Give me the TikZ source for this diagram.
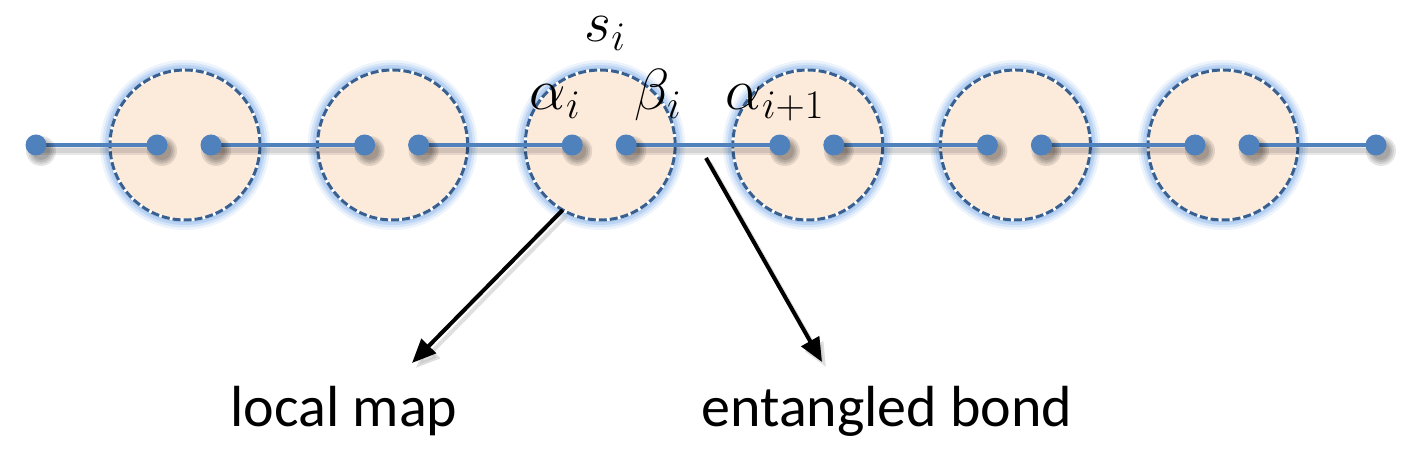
\RequirePackage{fix-cm}
\documentclass[tikz,border=0pt]{standalone}
\usepackage{fontspec}
\setmainfont{Carlito}
\usetikzlibrary{arrows.meta,calc}
\definecolor{bondblue}{HTML}{4F81BD}
\definecolor{rimblue}{HTML}{395F8E}
\definecolor{glowblue}{HTML}{8CB6EC}
\definecolor{peach}{HTML}{FCEADB}
\tikzset{
  site/.style={circle,fill=bondblue,inner sep=0pt,minimum size=21pt},
  siteshadow/.style={fill=black,opacity=.1},
  tensor/.style={circle,draw=white,line width=3pt,fill=peach,minimum size=150pt,
    inner sep=0pt,outer sep=0pt,postaction={draw=rimblue,dash pattern=on 8pt off 3pt}},
  bond/.style={bondblue,line width=4.5pt},
  bondshadow/.style={black,opacity=.09,line width=9pt},
  pointer/.style={line width=4pt,-{Triangle[length=24pt,width=20pt]}},
  lbl/.style={font=\fontsize{58}{70}\selectfont,anchor=base,inner sep=0pt},
}
\begin{document}
\begin{tikzpicture}[x=1pt,y=1pt]
\useasboundingbox (0,0) rectangle (1421,457);

% tensors with their glow
\foreach \k in {1,...,6} {
  \pgfmathsetmacro\cx{185+207.6*(\k-1)}
  \foreach \w/\o in {20/.15,15/.25,10/.35,5/.5}
    \draw[glowblue,line width=\w pt,opacity=\o] (\cx,312) circle (75);
  \node[tensor] (c\k) at (\cx,312) {};
  \coordinate (a\k) at ($(c\k)+(-28,0)$);
  \coordinate (b\k) at ($(c\k)+(26,0)$);
}
\coordinate (l) at (36,312);
\coordinate (r) at (1376,312);

% bonds
\foreach \p/\q in {l/a1,b1/a2,b2/a3,b3/a4,b4/a5,b5/a6,b6/r} {
  \draw[bondshadow,transform canvas={xshift=2pt,yshift=-6pt}] (\p) -- (\q);
  \draw[bondshadow,line width=5pt,transform canvas={xshift=2pt,yshift=-6pt}] (\p) -- (\q);
  \draw[bond] (\p) -- (\q);
}

% sites
\foreach \s in {l,a1,b1,a2,b2,a3,b3,a4,b4,a5,b5,a6,b6,r} {
  \foreach \rad in {15,13,11,9}
    \fill[siteshadow] ($(\s)+(5,-6)$) circle (\rad);
  \node[site] (dot-\s) at (\s) {};
}

% labels
\node[lbl] (s) at (605,415) {$s_i$};
\node[lbl] (al) at (555,347) {$\alpha_i$};
\node[lbl] (be) at (658,347) {$\beta_i$};
\node[lbl] (an) at (775,347) {$\alpha_{i+1}$};

\node[lbl] (lm) at (344,30) {local map};
\node[lbl] (eb) at (887,30) {entangled bond};

\coordinate (bondpt) at (706,299);
\coordinate (lmtip) at (412,94);
\coordinate (ebtip) at (822,95);
\draw[pointer,black!25,opacity=.5,transform canvas={xshift=4pt,yshift=-5pt}] (c3.240) -- (lmtip);
\draw[pointer,black!25,opacity=.5,transform canvas={xshift=4pt,yshift=-5pt}] (bondpt) -- (ebtip);
\draw[pointer] (c3.240) -- (lmtip);
\draw[pointer] (bondpt) -- (ebtip);

\end{tikzpicture}
\end{document}
